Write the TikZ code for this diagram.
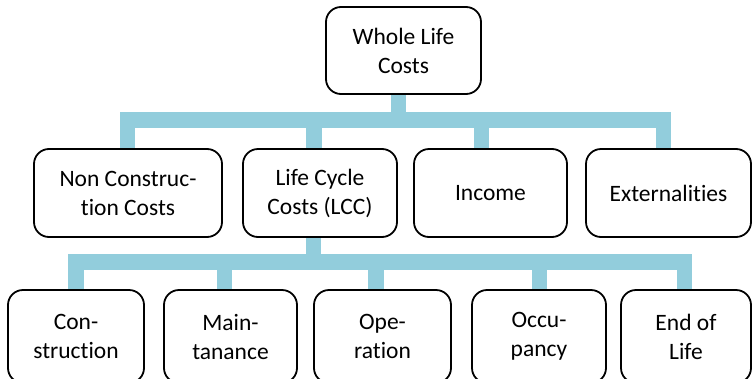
\documentclass[tikz,border=0pt]{standalone}
\usepackage{fontspec}
\setmainfont{Carlito}[RawFeature={-liga}]
\usetikzlibrary{backgrounds}
\definecolor{linkblue}{HTML}{92CDDC}
\newcommand{\boxfont}{\fontsize{23.5}{29}\selectfont}
\tikzset{
  box/.style={draw=black, line width=1.8pt, rounded corners=15pt, fill=white,
    align=center, inner sep=0pt, font=\boxfont},
  conn/.style={draw=linkblue, line width=15.5pt, line join=miter, line cap=butt},
}
\begin{document}
\begin{tikzpicture}[x=1pt, y=-1pt]
\clip (0,0) rectangle (753,378);

% junction points on the two bars
\coordinate (t0) at (398.5,120);
\coordinate (t1) at (127.5,120);
\coordinate (t2) at (314,120);
\coordinate (t3) at (481.5,120);
\coordinate (t4) at (663.5,120);
\coordinate (l0) at (313.5,262);
\coordinate (l1) at (76,262);
\coordinate (l2) at (224.5,262);
\coordinate (l3) at (376,262);
\coordinate (l4) at (539.5,262);
\coordinate (l5) at (684.5,262);

% boxes
\node[box, minimum width=155pt, minimum height=87pt] (wlc) at (403.5,50.5) {Whole Life\\Costs};

\node[box, minimum width=188pt, minimum height=88pt] (ncc) at (128,193) {Non Construc-\\tion Costs};
\node[box, minimum width=154pt, minimum height=88pt] (lcc) at (320,193) {Life Cycle\\Costs (LCC)};
\node[box, minimum width=153pt, minimum height=88pt] (inc) at (490.5,193) {Income};
\node[box, minimum width=165pt, minimum height=88pt] (ext) at (668.5,193) {Externalities};

% bottom row runs past the lower edge of the page
\tikzset{lowbox/.style={box, minimum height=93pt}}
\node[lowbox, minimum width=136pt] (con) at (76,336.5) {Con-\\struction};
\node[lowbox, minimum width=133pt] (mai) at (230.5,336.5) {Main-\\tanance};
\node[lowbox, minimum width=137pt] (ope) at (382.5,336.5) {Ope-\\ration};
\node[lowbox, minimum width=134pt] (occ) at (539,336.5) {Occu-\\pancy};
\node[lowbox, minimum width=130pt] (eol) at (686,336.5) {End of\\Life};

% connectors, drawn beneath the boxes
\begin{scope}[on background layer]
  \fill[white] (0,0) rectangle (753,378);
  \draw[conn] (wlc.south -| t0) -- (t0) -- (t1) -- (t1 |- ncc.north);
  \draw[conn] (t0) -- (t4) -- (t4 |- ext.north);
  \draw[conn] (t2) -- (t2 |- lcc.north);
  \draw[conn] (t3) -- (t3 |- inc.north);
  \draw[conn] (lcc.south -| l0) -- (l0);
  \draw[conn] (l1 |- con.north) -- (l1) -- (l5) -- (l5 |- eol.north);
  \draw[conn] (l2) -- (l2 |- mai.north);
  \draw[conn] (l3) -- (l3 |- ope.north);
  \draw[conn] (l4) -- (l4 |- occ.north);
\end{scope}
\end{tikzpicture}
\end{document}
